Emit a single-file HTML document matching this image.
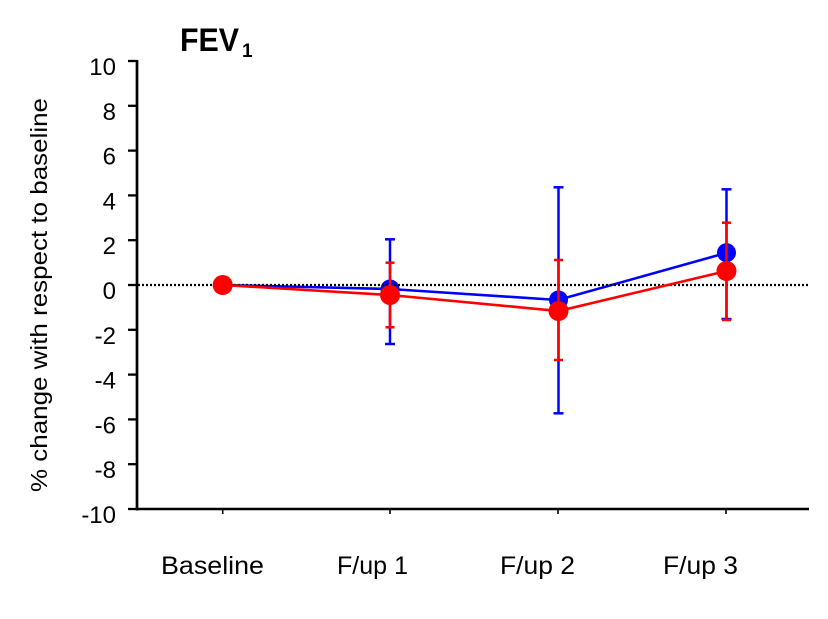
<!DOCTYPE html>
<html>
<head>
<meta charset="utf-8">
<style>
html,body{margin:0;padding:0;background:#fff;}
svg{display:block;}
text{font-family:"Liberation Sans",Arial,sans-serif;fill:#000;}
</style>
</head>
<body>
<svg width="828" height="619" viewBox="0 0 828 619" xmlns="http://www.w3.org/2000/svg">
  <rect width="828" height="619" fill="#fff"/>
  <!-- Title -->
  <text x="180" y="51" font-size="32" font-weight="bold" textLength="59" lengthAdjust="spacingAndGlyphs">FEV</text>
  <text x="242" y="57" font-size="19" font-weight="bold">1</text>

  <!-- Y axis label -->
  <text transform="translate(47,295) rotate(-90)" text-anchor="middle" font-size="23.5" textLength="394" lengthAdjust="spacingAndGlyphs">% change with respect to baseline</text>

  <!-- Axes -->
  <line x1="137" y1="60" x2="137" y2="510.5" stroke="#000" stroke-width="2.7"/>
  <line x1="136" y1="509" x2="809" y2="509" stroke="#000" stroke-width="2.5"/>

  <!-- Y ticks -->
  <g stroke="#000" stroke-width="2.3">
    <line x1="128" y1="61" x2="137" y2="61"/>
    <line x1="128" y1="105.8" x2="137" y2="105.8"/>
    <line x1="128" y1="150.6" x2="137" y2="150.6"/>
    <line x1="128" y1="195.4" x2="137" y2="195.4"/>
    <line x1="128" y1="240.2" x2="137" y2="240.2"/>
    <line x1="128" y1="285" x2="137" y2="285"/>
    <line x1="128" y1="329.8" x2="137" y2="329.8"/>
    <line x1="128" y1="374.6" x2="137" y2="374.6"/>
    <line x1="128" y1="419.4" x2="137" y2="419.4"/>
    <line x1="128" y1="464.2" x2="137" y2="464.2"/>
    <line x1="128" y1="509" x2="137" y2="509"/>
  </g>
  <g font-size="24" text-anchor="end">
    <text x="116" y="75">10</text>
    <text x="116" y="119.8">8</text>
    <text x="116" y="164.6">6</text>
    <text x="116" y="209.4">4</text>
    <text x="116" y="254.2">2</text>
    <text x="116" y="299">0</text>
    <text x="116" y="343.8">-2</text>
    <text x="116" y="388.6">-4</text>
    <text x="116" y="433.4">-6</text>
    <text x="116" y="478.2">-8</text>
    <text x="116" y="523">-10</text>
  </g>

  <!-- X ticks -->
  <g stroke="#000" stroke-width="1.6">
    <line x1="222.7" y1="509" x2="222.7" y2="514"/>
    <line x1="390" y1="509" x2="390" y2="514"/>
    <line x1="558" y1="509" x2="558" y2="514"/>
    <line x1="726" y1="509" x2="726" y2="514"/>
  </g>
  <g font-size="25">
    <text x="161" y="574" textLength="103" lengthAdjust="spacingAndGlyphs">Baseline</text>
    <text x="337" y="574" textLength="71" lengthAdjust="spacingAndGlyphs">F/up 1</text>
    <text x="500" y="574" textLength="75" lengthAdjust="spacingAndGlyphs">F/up 2</text>
    <text x="663" y="574" textLength="75" lengthAdjust="spacingAndGlyphs">F/up 3</text>
  </g>

  <!-- Blue series -->
  <polyline points="222.7,285 390,289 558,300 726,253" fill="none" stroke="#0000ff" stroke-width="2.6"/>
  <g stroke="#0000ff" stroke-width="2.5">
    <line x1="390" y1="239.3" x2="390" y2="344"/>
    <line x1="385" y1="239.3" x2="395" y2="239.3"/>
    <line x1="385" y1="344" x2="395" y2="344"/>
    <line x1="558.5" y1="187.3" x2="558.5" y2="413.3"/>
    <line x1="553.5" y1="187.3" x2="563.5" y2="187.3"/>
    <line x1="553.5" y1="413.3" x2="563.5" y2="413.3"/>
    <line x1="726.5" y1="189.3" x2="726.5" y2="319"/>
    <line x1="721.5" y1="189.3" x2="731.5" y2="189.3"/>
    <line x1="721.5" y1="319" x2="731.5" y2="319"/>
  </g>
  <g fill="#0000ff">
    <circle cx="222.7" cy="285" r="9.5"/>
    <circle cx="390" cy="289" r="9.5"/>
    <circle cx="558.5" cy="300" r="9.5"/>
    <circle cx="726.5" cy="252.7" r="9.5"/>
  </g>

  <!-- Dotted zero line -->
  <line x1="138" y1="285" x2="809" y2="285" stroke="#000" stroke-width="2.3" stroke-dasharray="2,2"/>

  <!-- Red series -->
  <g stroke="#ff0000" stroke-width="2.5">
    <line x1="390" y1="262.7" x2="390" y2="327.3"/>
    <line x1="385.5" y1="262.7" x2="394.5" y2="262.7"/>
    <line x1="385.5" y1="327.3" x2="394.5" y2="327.3"/>
    <line x1="558.5" y1="260" x2="558.5" y2="360"/>
    <line x1="554" y1="260" x2="563" y2="260"/>
    <line x1="554" y1="360" x2="563" y2="360"/>
    <line x1="726.5" y1="222.7" x2="726.5" y2="320"/>
    <line x1="722" y1="222.7" x2="731" y2="222.7"/>
    <line x1="722" y1="320" x2="731" y2="320"/>
  </g>
  <polyline points="222.7,285 390,295 558.5,311 726.5,271" fill="none" stroke="#ff0000" stroke-width="2.6"/>
  <g fill="#ff0000">
    <circle cx="222.7" cy="285" r="10"/>
    <circle cx="390" cy="295" r="10"/>
    <circle cx="558.5" cy="311" r="10"/>
    <circle cx="726.5" cy="271" r="10"/>
  </g>
</svg>
</body>
</html>
